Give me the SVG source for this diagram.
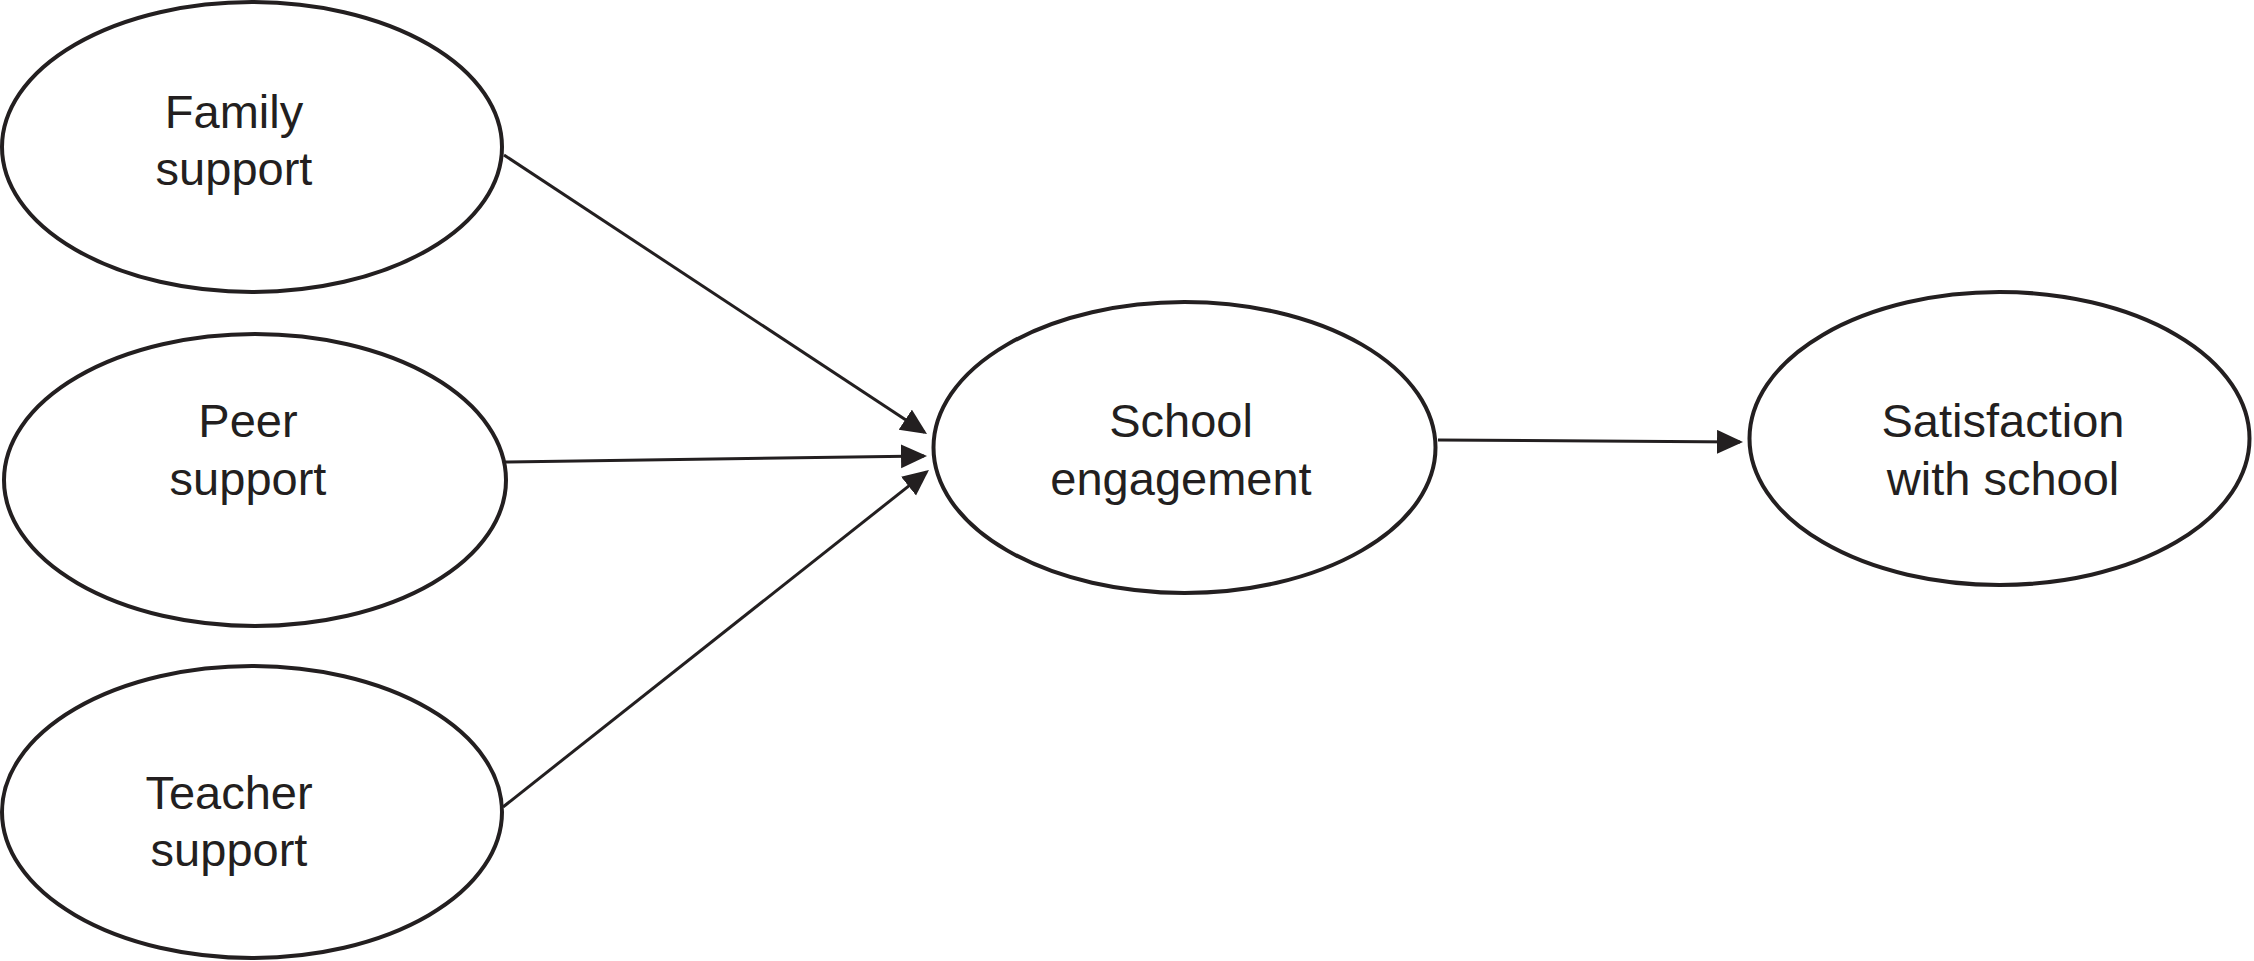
<svg xmlns="http://www.w3.org/2000/svg" width="2254" height="961" viewBox="0 0 2254 961">
<style>
.node ellipse{fill:#fff;stroke:#231f20;stroke-width:4}
.node text{font-family:"Liberation Sans",Arial,sans-serif;font-size:47px;fill:#231f20;text-anchor:middle}
.edge{stroke:#231f20;stroke-width:3;fill:none;marker-end:url(#arr)}
</style>
<defs>
<marker id="arr" markerUnits="userSpaceOnUse" markerWidth="28" markerHeight="26" refX="23" refY="12" orient="auto">
<path d="M0,0 L26,12 L0,24 z" fill="#231f20"/>
</marker>
</defs>
<rect width="2254" height="961" fill="#fff"/>
<g id="connectors">
<line class="edge" x1="504" y1="155" x2="924.5" y2="432.3"/>
<line class="edge" x1="505" y1="462" x2="924" y2="456"/>
<line class="edge" x1="503" y1="807" x2="926.6" y2="471.9"/>
<line class="edge" x1="1438" y1="440" x2="1740" y2="442"/>
</g>
<g id="family" class="node">
<ellipse cx="252" cy="147" rx="250" ry="145"/>
<text x="234" y="128">Family</text>
<text x="234" y="185">support</text>
</g>
<g id="peer" class="node">
<ellipse cx="255" cy="480" rx="251" ry="146"/>
<text x="248" y="437">Peer</text>
<text x="248" y="495">support</text>
</g>
<g id="teacher" class="node">
<ellipse cx="252" cy="812" rx="250" ry="146"/>
<text x="229" y="809">Teacher</text>
<text x="229" y="866">support</text>
</g>
<g id="engagement" class="node">
<ellipse cx="1184.5" cy="447.5" rx="251" ry="145.5"/>
<text x="1181" y="437">School</text>
<text x="1181" y="495">engagement</text>
</g>
<g id="satisfaction" class="node">
<ellipse cx="1999.5" cy="438.5" rx="250" ry="146.5"/>
<text x="2003" y="437">Satisfaction</text>
<text x="2003" y="495">with school</text>
</g>
</svg>
